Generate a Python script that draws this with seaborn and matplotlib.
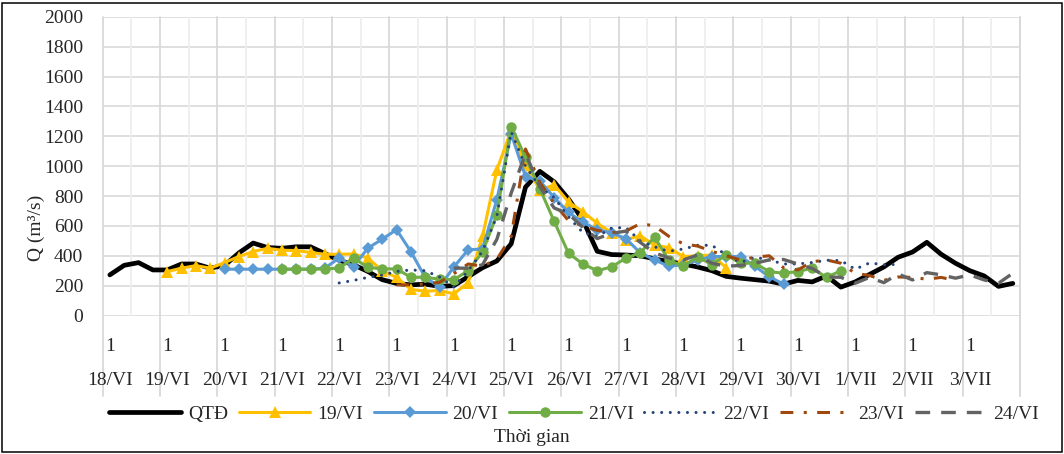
import numpy as np
import pandas as pd
import matplotlib
matplotlib.use("Agg")
import matplotlib.pyplot as plt
from matplotlib.patches import Rectangle
import seaborn as sns

# ---- data: discharge Q (m3/s), 6-hourly steps from 18/VI 1h to 3/VII 19h ----
day_labels = ["18/VI", "19/VI", "20/VI", "21/VI", "22/VI", "23/VI", "24/VI", "25/VI",
              "26/VI", "27/VI", "28/VI", "29/VI", "30/VI", "1/VII", "2/VII", "3/VII"]
steps_per_day = 4
hour_label = "1"

# observed discharge
q_qtd = [272, 336, 354, 305, 305, 345, 345, 317, 335, 419, 485, 455, 450, 460, 460, 415,
         370, 340, 295, 240, 215, 205, 210, 195, 200, 260, 320, 365, 480, 860, 965, 895,
         780, 640, 430, 408, 405, 400, 380, 360, 345, 325, 300, 262, 250, 240, 230, 210,
         235, 225, 265, 190, 225, 275, 325, 390, 425, 490, 410, 350, 300, 265, 195, 215]

# forecasts issued each day (10-day horizon), first step index and values
start_19 = 4
q_19 = [294, 317, 334, 317, 354, 395, 428, 450, 437, 435, 422, 410, 410, 412, 385, 300,
        255, 175, 162, 168, 145, 220, 530, 975, 1240, 1010, 840, 875, 760, 695, 618, 555,
        507, 535, 470, 455, 395, 400, 405, 320]
start_20 = 8
q_20 = [310, 310, 310, 310, 310, 310, 310, 317, 385, 328, 451, 511, 575, 428, 255, 192,
        325, 440, 445, 775, 1215, 930, 900, 790, 690, 625, 575, 553, 515, 420, 372, 330,
        340, 370, 395, 395, 395, 330, 260, 210]
start_21 = 12
q_21 = [310, 310, 310, 312, 317, 384, 323, 312, 312, 256, 256, 243, 240, 300, 425, 675,
        1265, 1060, 850, 630, 417, 345, 300, 325, 384, 420, 525, 370, 330, 395, 340, 406,
        350, 350, 294, 283, 294, 317, 255, 300]
start_22 = 16
q_22 = [218, 235, 255, 270, 295, 305, 300, 258, 190, 300, 430, 665, 1230, 1000, 860, 790,
        660, 555, 530, 585, 590, 500, 460, 430, 445, 470, 470, 406, 355, 390, 372, 345,
        345, 355, 370, 368, 310, 352, 340, 342]
start_23 = 20
q_23 = [205, 205, 212, 222, 280, 345, 330, 375, 530, 1115, 890, 750, 635, 600, 570, 555,
        565, 615, 600, 530, 480, 465, 430, 400, 372, 390, 400, 320, 305, 360, 372, 350,
        282, 268, 235, 258, 255, 243, 255, 235]
start_24 = 24
q_24 = [317, 317, 340, 510, 820, 1085, 860, 720, 680, 590, 515, 550, 565, 490, 420, 385,
        372, 405, 350, 330, 335, 350, 372, 375, 345, 315, 258, 256, 216, 255, 220, 278,
        238, 287, 272, 250, 272, 238, 216, 283]

series_names = ["QTĐ", "19/VI", "20/VI", "21/VI", "22/VI", "23/VI", "24/VI"]
series_starts = [0, start_19, start_20, start_21, start_22, start_23, start_24]
series_values = [q_qtd, q_19, q_20, q_21, q_22, q_23, q_24]

frames = []
for name, s0, vals in zip(series_names, series_starts, series_values):
    frames.append(pd.DataFrame({"step": np.arange(s0, s0 + len(vals)),
                                "Q": vals, "series": name}))
df = pd.concat(frames, ignore_index=True)
n_steps = steps_per_day * len(day_labels)

# ---- styling ----
sns.set_style("white")
plt.rcParams["font.family"] = ["Liberation Serif", "DejaVu Serif"]
plt.rcParams["axes.unicode_minus"] = False

styles = {
    "QTĐ":   dict(color="#000000", lw=3.4, solid_capstyle="round", solid_joinstyle="round"),
    "19/VI": dict(color="#FFC000", lw=2.2, marker="^", markersize=8.5, markeredgewidth=0),
    "20/VI": dict(color="#5B9BD5", lw=2.2, marker="D", markersize=6, markeredgewidth=0),
    "21/VI": dict(color="#70AD47", lw=2.2, marker="o", markersize=7.5, markeredgewidth=0),
    "22/VI": dict(color="#264478", lw=2.2, linestyle=(0, (0.01, 2.8)), dash_capstyle="round"),
    "23/VI": dict(color="#9E480E", lw=2.2, linestyle=(0, (4.2, 3.4, 1.0, 3.4)),
                  dash_capstyle="butt"),
    "24/VI": dict(color="#636363", lw=2.4, linestyle=(0, (4.4, 3.3)), dash_capstyle="butt"),
}

W, H = 1064, 454
fig = plt.figure(figsize=(W / 100, H / 100), dpi=100)
x0, x1 = 102.7, 1020.0
y_top, y_bot = 16.8, 315.5
ax = fig.add_axes([x0 / W, (H - y_bot) / H, (x1 - x0) / W, (y_bot - y_top) / H])

for name in series_names:
    sub = df[df["series"] == name]
    sns.lineplot(data=sub, x="step", y="Q", ax=ax, label=name, errorbar=None,
                 zorder=3, **styles[name])

ax.set_xlim(-0.5, n_steps - 0.5)
ax.set_ylim(0, 2000)
ax.set_yticks(np.arange(0, 2001, 200))
ax.tick_params(axis="y", length=0, pad=14, labelsize=14)
ax.set_xticks(np.arange(0, n_steps, steps_per_day))
ax.set_xticklabels([hour_label] * len(day_labels))
ax.tick_params(axis="x", length=0, pad=16, labelsize=14)
ax.set_xlabel("")
ax.set_ylabel("Q (m³/s)", fontsize=14)
ax.yaxis.set_label_coords(-0.063, 0.294)

for sp in ax.spines.values():
    sp.set_visible(False)

# horizontal gridlines
ax.grid(axis="y", color="#d9d9d9", lw=1.2, zorder=0)
ax.grid(axis="x", visible=False)

# vertical category dividers: every day (extended into label area), lighter every half day
label_depth = (396 - y_bot) / (y_bot - y_top)
for b in np.arange(-0.5, n_steps, 2):
    if int(b + 0.5) % steps_per_day == 0 or b == n_steps - 0.5:
        ax.axvline(b, ymin=-label_depth, ymax=1, color="#d9d9d9", lw=1.3,
                   clip_on=False, zorder=1)
    else:
        ax.axvline(b, color="#eeeeee", lw=1.3, zorder=1)
ax.axvline(n_steps - 0.5, ymin=-label_depth, ymax=1, color="#d9d9d9", lw=1.3,
           clip_on=False, zorder=1)

# second level of category labels: dates
date_y = (y_bot - 380.5) / (y_bot - y_top)
for k, d in enumerate(day_labels):
    ax.text(k * steps_per_day, date_y, d, transform=ax.get_xaxis_transform(),
            ha="center", va="center", fontsize=14)

leg_y = (y_bot - 414) / (y_bot - y_top)
ax.legend(loc="center", bbox_to_anchor=(0.514, leg_y), ncol=7, frameon=False,
          fontsize=14, handlelength=3.7, handletextpad=0.35, columnspacing=0.55,
          borderaxespad=0, borderpad=0)

fig.text(532 / W, 1 - 438 / H, "Thời gian", ha="center", va="center", fontsize=14)

# outer frame of the chart
fig.add_artist(Rectangle((2 / W, 2 / H), (W - 4) / W, (H - 4.5) / H, transform=fig.transFigure,
                         fill=False, ec="black", lw=1.1))

fig.savefig("out.png", dpi=100)
